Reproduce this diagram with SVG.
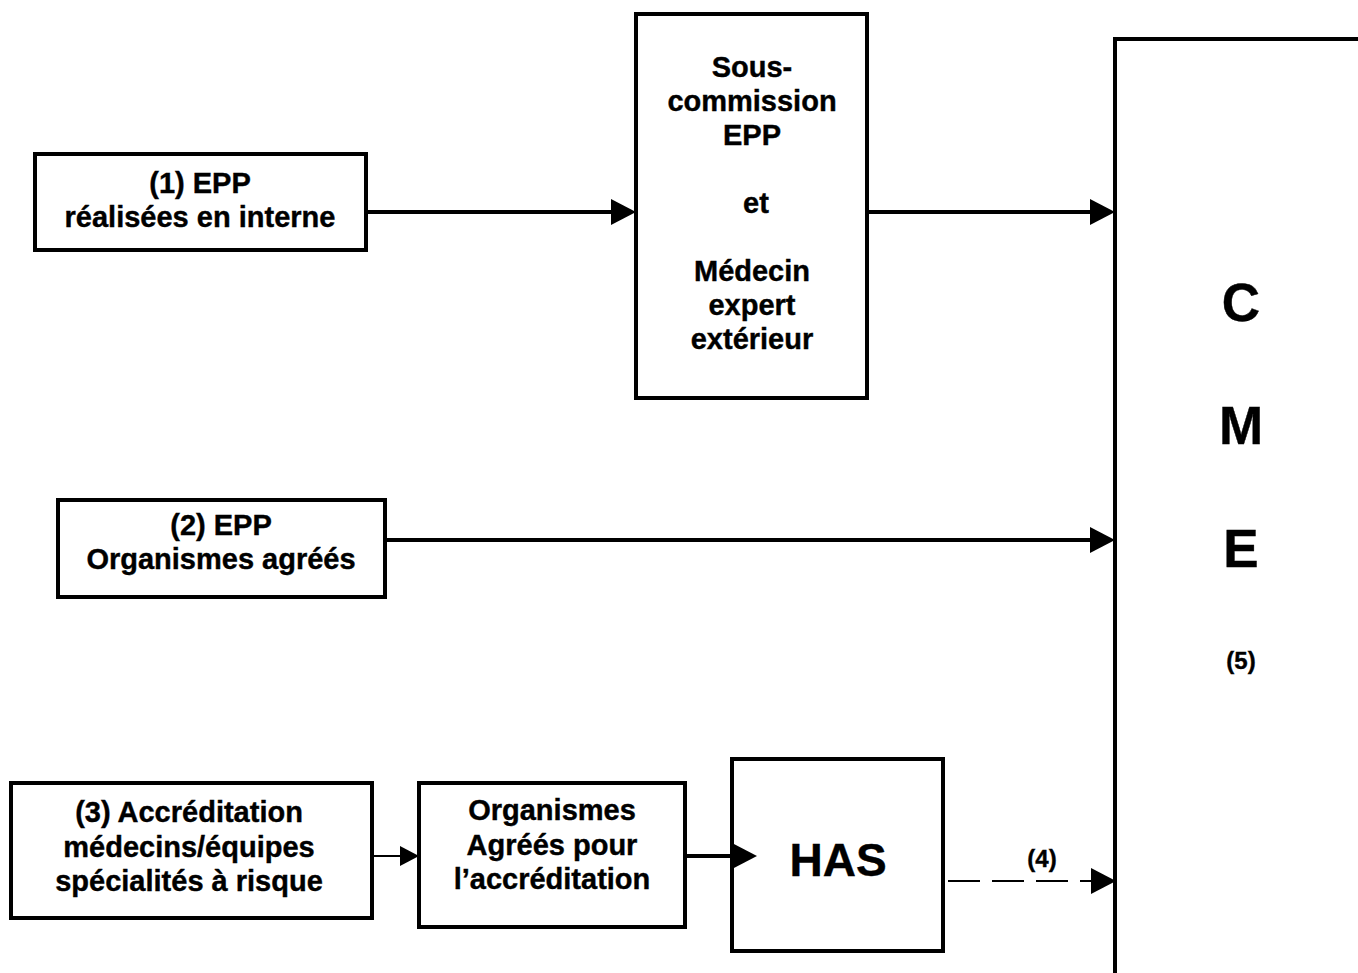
<svg xmlns="http://www.w3.org/2000/svg" width="1358" height="973" viewBox="0 0 1358 973">
<style>
.box{fill:#fff;stroke:#000;stroke-width:4}
.t{font-family:"Liberation Sans",Arial,sans-serif;font-weight:bold;font-size:29px;text-anchor:middle;fill:#000;stroke:#000;stroke-width:0.4}
.big{font-size:53px}
.has{font-size:46px}
.sm{font-size:24px}
.c{stroke:#000;fill:none}
.thick{stroke-width:4}
.thin{stroke-width:2}
.dash{stroke-dasharray:32 12}
</style>
<defs>
<marker id="ah" markerUnits="userSpaceOnUse" markerWidth="26" markerHeight="27" refX="0" refY="13" orient="auto" overflow="visible">
<path d="M0,0 L25,13 L0,26 Z" fill="#000"/>
</marker>
<marker id="ahs" markerUnits="userSpaceOnUse" markerWidth="20" markerHeight="21" refX="0" refY="10" orient="auto" overflow="visible">
<path d="M0,0 L19,10 L0,20 Z" fill="#000"/>
</marker>
</defs>
<rect width="1358" height="973" fill="#fff"/>
<g id="cme">
<path class="box" d="M1115,976 V39 H1362"/>
<text class="t big" x="1241" y="321">C</text>
<text class="t big" x="1241" y="444">M</text>
<text class="t big" x="1241" y="567">E</text>
<text class="t sm" x="1241" y="669">(5)</text>
</g>
<g id="epp1">
<rect class="box" x="35" y="154" width="331" height="96"/>
<text class="t" x="200" y="193">(1) EPP</text>
<text class="t" x="200" y="227">réalisées en interne</text>
</g>
<g id="souscommission">
<rect class="box" x="636" y="14" width="231" height="384"/>
<text class="t" x="752" y="77">Sous-</text>
<text class="t" x="752" y="111">commission</text>
<text class="t" x="752" y="145">EPP</text>
<text class="t" x="756" y="213">et</text>
<text class="t" x="752" y="281">Médecin</text>
<text class="t" x="752" y="315">expert</text>
<text class="t" x="752" y="349">extérieur</text>
</g>
<g id="epp2">
<rect class="box" x="58" y="500" width="327" height="97"/>
<text class="t" x="221" y="535">(2) EPP</text>
<text class="t" x="221" y="569">Organismes agréés</text>
</g>
<g id="accreditation">
<rect class="box" x="11" y="783" width="361" height="135"/>
<text class="t" x="189" y="822">(3) Accréditation</text>
<text class="t" x="189" y="857">médecins/équipes</text>
<text class="t" x="189" y="891">spécialités à risque</text>
</g>
<g id="organismes">
<rect class="box" x="419" y="783" width="266" height="144"/>
<text class="t" x="552" y="820">Organismes</text>
<text class="t" x="552" y="855">Agréés pour</text>
<text class="t" x="552" y="889">l’accréditation</text>
</g>
<g id="has">
<rect class="box" x="732" y="759" width="211" height="192"/>
<text class="t has" x="838" y="876">HAS</text>
</g>
<g id="connectors">
<line class="c thick" x1="366" y1="212" x2="611" y2="212" marker-end="url(#ah)"/>
<line class="c thick" x1="867" y1="212" x2="1090" y2="212" marker-end="url(#ah)"/>
<line class="c thick" x1="385" y1="540" x2="1090" y2="540" marker-end="url(#ah)"/>
<line class="c thin" x1="372" y1="856" x2="400" y2="856" marker-end="url(#ahs)"/>
<line class="c thick" x1="685" y1="856" x2="732" y2="856" marker-end="url(#ah)"/>
<line class="c thin dash" x1="948" y1="881" x2="1091" y2="881" marker-end="url(#ah)"/>
<text class="t sm" x="1042" y="867">(4)</text>
</g>
</svg>
